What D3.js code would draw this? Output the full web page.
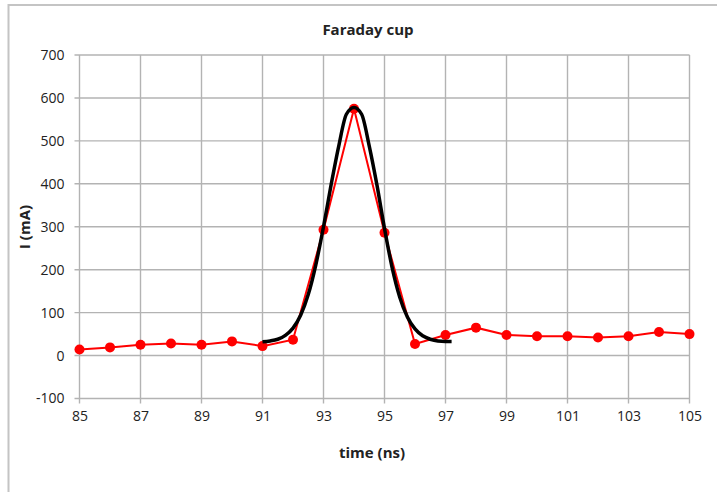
<!DOCTYPE html>
<html>
<head>
<meta charset="utf-8">
<script src="https://cdn.jsdelivr.net/npm/d3@7"></script>
<style>
  html, body { margin: 0; padding: 0; background: #fff; }
  svg { display: block; }
  text { font-family: "Open Sans", Lato, "Liberation Sans", sans-serif; fill: #222; }
</style>
</head>
<body>
<svg id="chart" width="717" height="492"></svg>
<script>
// Measured beam current (one sample per ns)
const timeNs = [85, 86, 87, 88, 89, 90, 91, 92, 93, 94, 95, 96, 97, 98, 99, 100, 101, 102, 103, 104, 105];
const currentMA = [14, 19, 25, 28, 25, 33, 22, 37, 293, 575, 286, 27, 48, 65, 48, 45, 45, 42, 45, 55, 50];

// Fitted pulse shape
const fitTime = [91, 91.25, 91.5, 91.75, 92, 92.25, 92.5, 92.75, 93, 93.25, 93.5, 93.75, 94,
                 94.25, 94.5, 94.75, 95, 95.25, 95.5, 95.75, 96, 96.25, 96.5, 96.75, 97, 97.2];
const fitCurrent = [32, 34, 38, 47, 64, 94, 142, 212, 300, 398, 488, 562, 578,
                    562, 488, 398, 296, 205, 136, 90, 62, 46, 38, 34, 33, 33];

const xTicks = [85, 87, 89, 91, 93, 95, 97, 99, 101, 103, 105];
const yTicks = [-100, 0, 100, 200, 300, 400, 500, 600, 700];

const svg = d3.select("#chart");

// outer chart frame
svg.append("rect")
  .attr("x", 8.5).attr("y", 5).attr("width", 740).attr("height", 520)
  .attr("fill", "none").attr("stroke", "#c4c4c4").attr("stroke-width", 2);

const x = d3.scaleLinear().domain([85, 105]).range([79.5, 689.5]);
const y = d3.scaleLinear().domain([-100, 700]).range([398.5, 55]);

const gridColor = "#b3b3b3";

// grid
svg.append("g").selectAll("line").data(yTicks).join("line")
  .attr("x1", x(85) - 5).attr("x2", x(105))
  .attr("y1", d => y(d)).attr("y2", d => y(d))
  .attr("stroke", gridColor).attr("stroke-width", 1.4);
svg.append("g").selectAll("line").data(xTicks).join("line")
  .attr("x1", d => x(d)).attr("x2", d => x(d))
  .attr("y1", y(700)).attr("y2", y(-100) + 5)
  .attr("stroke", gridColor).attr("stroke-width", 1.4);

// tick labels
const fmt = d => String(d);
const yAxis = d3.axisLeft(y).tickValues(yTicks).tickFormat(fmt).tickSize(0).tickPadding(15);
const gy = svg.append("g").attr("transform", `translate(${x(85)},0)`).call(yAxis);
gy.select(".domain").remove();
gy.selectAll("text").attr("font-size", 14)
  .style("font-family", "'Open Sans', Lato, sans-serif").attr("fill", "#1a1a1a");

const xAxis = d3.axisBottom(x).tickValues(xTicks).tickFormat(fmt).tickSize(0).tickPadding(13);
const gx = svg.append("g").attr("transform", `translate(0,${y(-100)})`).call(xAxis);
gx.select(".domain").remove();
gx.selectAll("text").attr("font-size", 14)
  .style("font-family", "'Open Sans', Lato, sans-serif").attr("fill", "#1a1a1a");

// measured series
const pts = timeNs.map((t, i) => [t, currentMA[i]]);
svg.append("path")
  .attr("d", d3.line().x(d => x(d[0])).y(d => y(d[1]))(pts))
  .attr("fill", "none").attr("stroke", "#ff0000").attr("stroke-width", 2);
svg.append("g").selectAll("circle").data(pts).join("circle")
  .attr("cx", d => x(d[0])).attr("cy", d => y(d[1])).attr("r", 5)
  .attr("fill", "#ff0000");

// fit curve
const fit = fitTime.map((t, i) => [t, fitCurrent[i]]);
svg.append("path")
  .attr("d", d3.line().x(d => x(d[0])).y(d => y(d[1])).curve(d3.curveMonotoneX)(fit))
  .attr("fill", "none").attr("stroke", "#000").attr("stroke-width", 3.5)
  .attr("stroke-linejoin", "round").attr("stroke-linecap", "butt");

// titles
svg.append("text").attr("x", 368).attr("y", 35).attr("text-anchor", "middle")
  .attr("font-size", 15).attr("font-weight", "bold").text("Faraday cup");
svg.append("text").attr("x", 372).attr("y", 458).attr("text-anchor", "middle")
  .attr("font-size", 15).attr("font-weight", "bold").text("time (ns)");
svg.append("text").attr("transform", "translate(30,227) rotate(-90)").attr("text-anchor", "middle")
  .attr("font-size", 15).attr("font-weight", "bold").text("I (mA)");
</script>
</body>
</html>
